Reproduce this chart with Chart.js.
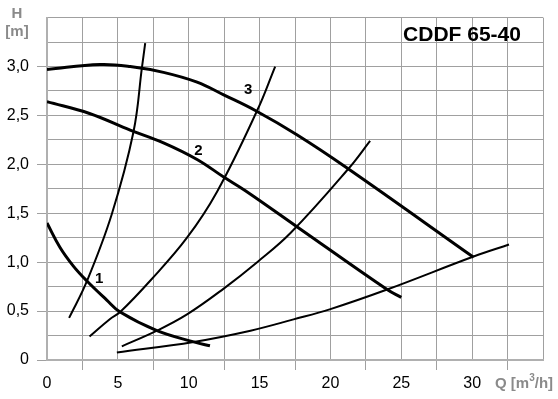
<!DOCTYPE html>
<html>
<head>
<meta charset="utf-8">
<script src="https://cdn.jsdelivr.net/npm/chart.js@4"></script>
<style>
  html, body { margin: 0; padding: 0; background: #fff; }
  #wrap { width: 558px; height: 399px; }
</style>
</head>
<body>
<div id="wrap"><canvas id="pumpChart" width="558" height="399"></canvas></div>
<script>
// pump curves (Q in m3/h, H in m)
const pump1Q = [0, 0.92, 1.86, 2.8, 4.2, 5.16, 7.76, 10.35, 11.5];
const pump1H = [1.40, 1.15, 0.96, 0.81, 0.615, 0.49, 0.30, 0.185, 0.145];
const pump2Q = [0, 3, 5.87, 8.22, 10.59, 12.47, 14.0, 17.66, 24.0, 25.0];
const pump2H = [2.64, 2.52, 2.35, 2.22, 2.05, 1.87, 1.73, 1.36, 0.72, 0.64];
const pump3Q = [0, 3.75, 5.87, 8.22, 10.59, 12.47, 14.7, 17.66, 21.2, 30.1];
const pump3H = [2.97, 3.02, 3.0, 2.94, 2.84, 2.71, 2.55, 2.30, 1.96, 1.05];

// system curves
const sysAQ = [1.56, 2.8, 4.57, 6.1, 6.7, 6.93];
const sysAH = [0.43, 0.80, 1.49, 2.33, 2.99, 3.24];
const sysBQ = [3.0, 4.45, 5.16, 7.28, 9.88, 12.0, 14.83, 16.1];
const sysBH = [0.24, 0.42, 0.49, 0.81, 1.25, 1.72, 2.55, 3.0];
const sysCQ = [5.28, 7.76, 9.88, 12.47, 14.83, 17.2, 21.3, 22.8];
const sysCH = [0.14, 0.30, 0.466, 0.73, 1.0, 1.30, 1.96, 2.24];
const sysDQ = [4.93, 10.35, 14.36, 17.4, 20.0, 24.0, 30.15, 32.6];
const sysDH = [0.077, 0.185, 0.30, 0.415, 0.52, 0.72, 1.06, 1.18];

// curve numbers and where they sit
const curveNames = ["1", "2", "3"];
const curveNameQ = [3.68, 10.68, 14.2];
const curveNameH = [0.83, 2.14, 2.76];

const gridColor = "#a0a0a0";
const labelGray = "#8a8a8a";

function pts(qs, hs) {
  return qs.map((q, i) => ({ x: q, y: hs[i] }));
}

function curve(qs, hs, width) {
  return {
    data: pts(qs, hs),
    borderColor: "#000",
    borderWidth: width,
    pointRadius: 0,
    tension: 0.4,
    fill: false,
  };
}

// extra texts: title, axis titles, curve numbers
const textPlugin = {
  id: "texts",
  afterDraw(chart) {
    const c = chart.ctx;
    const xs = chart.scales.x, ys = chart.scales.y;
    c.save();
    c.textAlign = "center";
    c.textBaseline = "middle";

    c.fillStyle = "#000";
    c.font = "bold 21px 'Liberation Sans', Arial, sans-serif";
    c.fillText("CDDF 65-40", 462, 35);

    c.font = "bold 15px 'Liberation Sans', Arial, sans-serif";
    curveNames.forEach((n, i) => {
      c.fillText(n, xs.getPixelForValue(curveNameQ[i]), ys.getPixelForValue(curveNameH[i]));
    });

    c.fillStyle = labelGray;
    c.font = "bold 15px 'Liberation Sans', Arial, sans-serif";
    c.fillText("H", 17, 14);
    c.fillText("[m]", 17, 32);

    // Q [m3/h] with superscript
    c.textAlign = "left";
    let x = 495;
    const y = 384;
    c.fillText("Q [m", x, y);
    x += c.measureText("Q [m").width;
    c.font = "bold 10px 'Liberation Sans', Arial, sans-serif";
    c.fillText("3", x, y - 6);
    x += c.measureText("3").width;
    c.font = "bold 15px 'Liberation Sans', Arial, sans-serif";
    c.fillText("/h]", x, y);
    c.restore();
  },
};

new Chart(document.getElementById("pumpChart"), {
  type: "line",
  data: {
    datasets: [
      curve(pump1Q, pump1H, 3),
      curve(pump2Q, pump2H, 3),
      curve(pump3Q, pump3H, 3),
      curve(sysAQ, sysAH, 2),
      curve(sysBQ, sysBH, 2),
      curve(sysCQ, sysCH, 2),
      curve(sysDQ, sysDH, 2),
    ],
  },
  options: {
    responsive: false,
    animation: false,
    layout: { padding: { top: 13, right: 15, left: 0, bottom: 0 } },
    plugins: {
      legend: { display: false },
      tooltip: { enabled: false },
    },
    scales: {
      x: {
        type: "linear",
        min: 0,
        max: 35,
        grid: {
          color: gridColor,
          lineWidth: 1,
          tickLength: 10,
          tickColor: (ctx) => (ctx.tick && ctx.tick.value % 5 !== 0 ? gridColor : "rgba(0,0,0,0)"),
        },
        border: { color: "#b0b0b0", width: 2 },
        ticks: {
          stepSize: 2.5,
          autoSkip: false,
          maxRotation: 0,
          padding: 4,
          color: "#000",
          font: { size: 16, family: "'Liberation Sans', Arial, sans-serif" },
          callback: (v) => (v % 5 === 0 && v < 35 ? String(v) : ""),
        },
        afterFit: (s) => { s.height = 39; },
      },
      y: {
        min: 0,
        max: 3.5,
        grid: {
          color: gridColor,
          lineWidth: 1,
          tickLength: 10,
          tickColor: (ctx) => (ctx.tick && Math.abs(ctx.tick.value * 2 - Math.round(ctx.tick.value * 2)) < 1e-6 && ctx.tick.value < 3.5 ? gridColor : "rgba(0,0,0,0)"),
        },
        border: { color: "#b0b0b0", width: 2 },
        ticks: {
          stepSize: 0.25,
          autoSkip: false,
          padding: 8,
          color: "#000",
          font: { size: 16, family: "'Liberation Sans', Arial, sans-serif" },
          callback: (v) => {
            if (v === 0) return "0";
            if (Math.abs(v * 2 - Math.round(v * 2)) > 1e-6 || v >= 3.5) return "";
            return v.toFixed(1).replace(".", ",");
          },
        },
        afterFit: (s) => { s.width = 47; },
      },
    },
  },
  plugins: [textPlugin],
});
</script>
</body>
</html>
